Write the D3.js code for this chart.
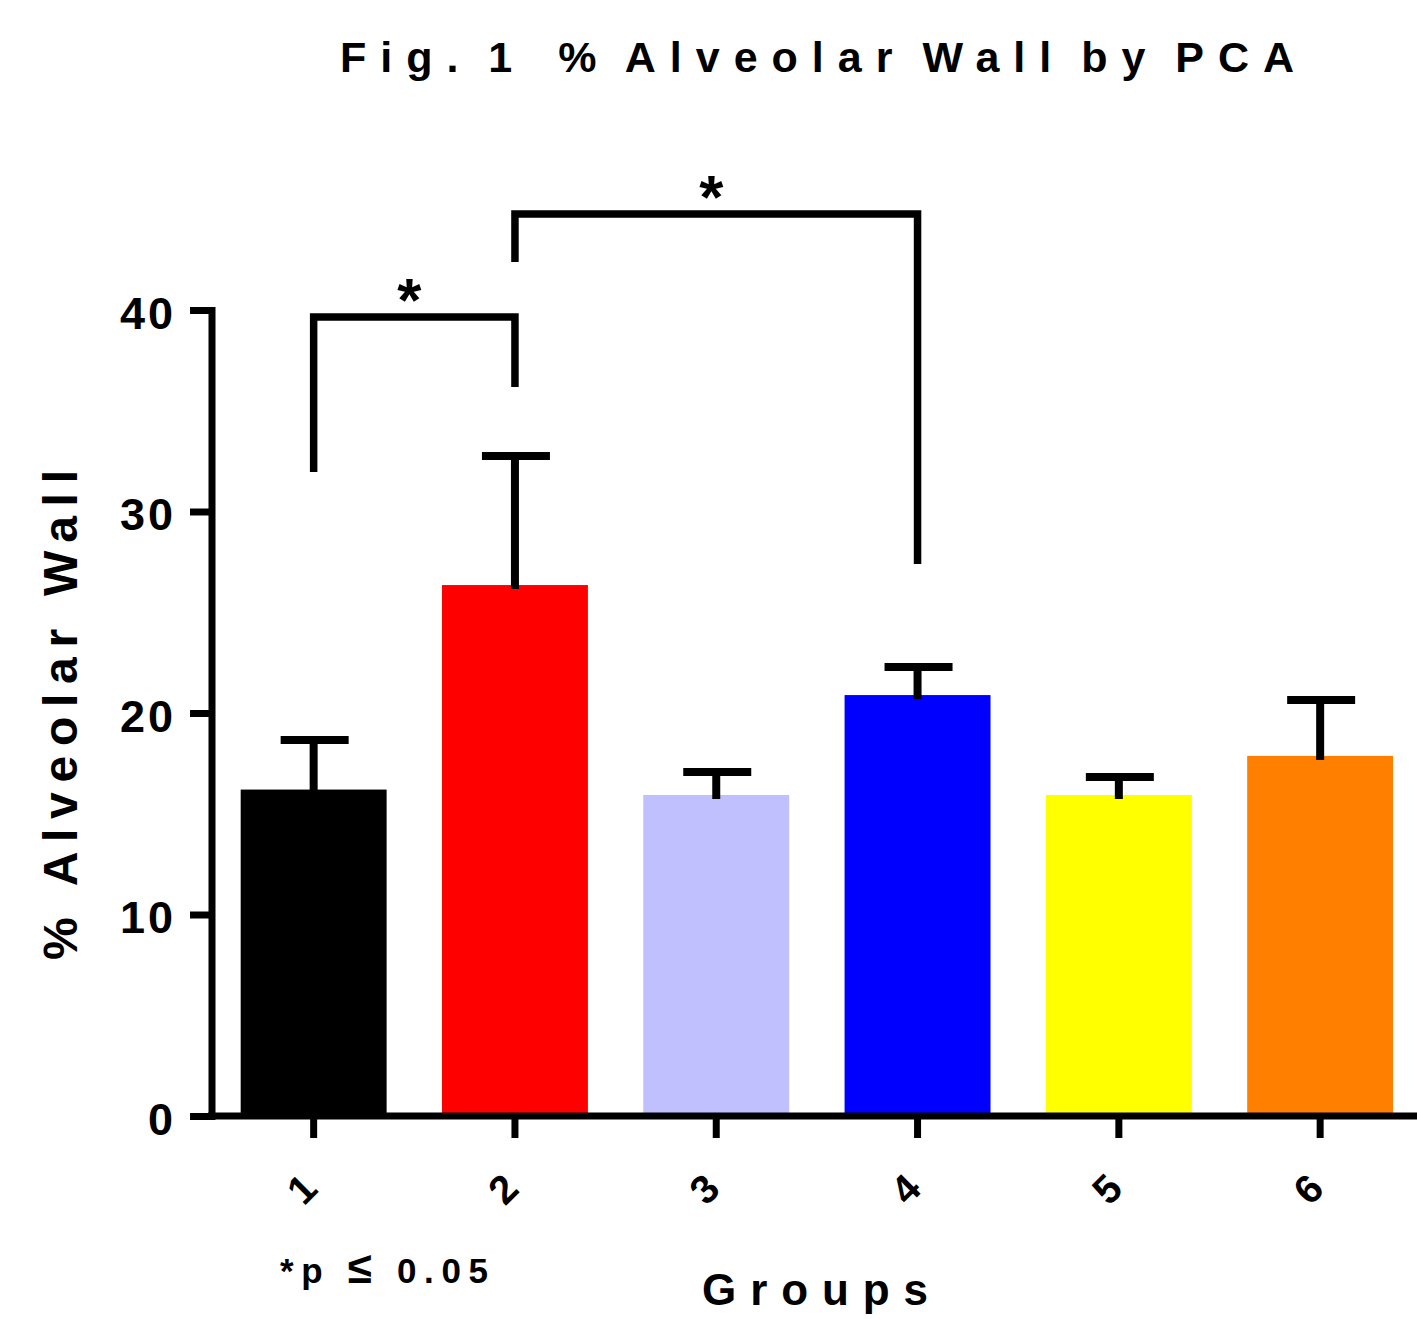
<!DOCTYPE html>
<html>
<head>
<meta charset="utf-8">
<title>% Alveolar Wall by PCA</title>
<script src="https://d3js.org/d3.v7.min.js"></script>
<style>
    body { margin: 0; background: #fff; }
    text { font-family: "Liberation Sans", Arial, sans-serif; font-weight: bold; fill: #000; }
</style>
</head>
<body>
<div id="chart"></div>
<script>
    // data
    const groups = ["1", "2", "3", "4", "5", "6"];
    const means = [16.2, 26.35, 15.93, 20.89, 15.93, 17.87];
    const sems = [2.46, 6.4, 1.14, 1.39, 0.89, 2.78];
    const colors = ["#000000", "#FF0000", "#C0C0FF", "#0000FF", "#FFFF00", "#FF8000"];
    const yTicks = [0, 10, 20, 30, 40];
    // significance brackets: group pair, bar height, left/right leg ends (y units)
    const brackets = [
        { from: "1", to: "2", top: 39.65, left: 31.96, right: 36.18, label: "*" },
        { from: "2", to: "4", top: 44.76, left: 42.38, right: 27.39, label: "*" }
    ];

    const W = 1417, H = 1319;
    const svg = d3.select("#chart").append("svg")
        .attr("width", W)
        .attr("height", H);

    const x = d3.scaleBand()
        .domain(groups)
        .range([213, 213 + 6 * 201.3])
        .paddingInner(0.275)
        .paddingOuter(0.1375);

    const y = d3.scaleLinear()
        .domain([0, 40])
        .range([1116, 310]);

    // bars
    svg.selectAll(".bar")
        .data(groups)
        .join("rect")
        .attr("class", "bar")
        .attr("x", d => x(d))
        .attr("width", x.bandwidth())
        .attr("y", (d, i) => y(means[i]))
        .attr("height", (d, i) => y(0) - y(means[i]))
        .attr("fill", (d, i) => colors[i]);

    // error bars (upper only)
    const capHalf = 33;
    const err = svg.append("g");
    groups.forEach((g, i) => {
        const cx = x(g) + x.bandwidth() / 2;
        err.append("line")
            .attr("x1", cx).attr("x2", cx)
            .attr("y1", y(means[i]) + 4)
            .attr("y2", y(means[i] + sems[i]))
            .attr("stroke", "#000").attr("stroke-width", 8);
        err.append("line")
            .attr("x1", cx - capHalf).attr("x2", cx + capHalf + 2)
            .attr("y1", y(means[i] + sems[i]))
            .attr("y2", y(means[i] + sems[i]))
            .attr("stroke", "#000").attr("stroke-width", 8);
    });

    // y axis
    const yAxis = svg.append("g")
        .attr("transform", "translate(212,0)")
        .call(d3.axisLeft(y).tickValues(yTicks).tickSize(22).tickSizeOuter(0).tickPadding(14));
    yAxis.select(".domain").attr("stroke-width", 7).attr("d", `M0,${y(40) - 3}V${y(0) + 4}`);
    yAxis.selectAll(".tick line").attr("stroke-width", 7);
    yAxis.selectAll(".tick text")
        .style("font-size", "45px")
        .style("letter-spacing", "3px")
        .attr("font-family", null)
        .attr("dy", "0.4em");

    // x axis
    const xAxis = svg.append("g")
        .attr("transform", "translate(0,1116)")
        .call(d3.axisBottom(x).tickSize(22).tickSizeOuter(0));
    xAxis.select(".domain").attr("stroke-width", 7).attr("d", `M208,0H${W}`);
    xAxis.selectAll(".tick line").attr("stroke-width", 7);
    xAxis.selectAll(".tick text")
        .style("font-size", "40px")
        .attr("font-family", null)
        .attr("text-anchor", "middle")
        .attr("dominant-baseline", "central")
        .attr("x", 0).attr("y", 0).attr("dy", null)
        .attr("transform", "translate(-12,73) rotate(-45)");

    // significance brackets
    brackets.forEach(b => {
        const x1 = x(b.from) + x.bandwidth() / 2;
        const x2 = x(b.to) + x.bandwidth() / 2;
        svg.append("path")
            .attr("d", `M${x1},${y(b.left)}V${y(b.top)}H${x2}V${y(b.right)}`)
            .attr("fill", "none")
            .attr("stroke", "#000")
            .attr("stroke-width", 7.5);
        svg.append("text")
            .attr("x", (x1 + x2) / 2 - 5)
            .attr("y", y(b.top) + 4)
            .attr("text-anchor", "middle")
            .style("font-size", "62px")
            .text(b.label);
    });

    // title
    svg.append("text")
        .attr("x", 340)
        .attr("y", 72)
        .style("font-size", "43px")
        .style("letter-spacing", "14px")
        .style("word-spacing", "-10px")
        .style("white-space", "pre")
        .text("Fig. 1  % Alveolar Wall by PCA");

    // y label
    svg.append("text")
        .attr("transform", "translate(77,960) rotate(-90)")
        .attr("textLength", 490)
        .attr("lengthAdjust", "spacing")
        .style("font-size", "48px")
        .text("% Alveolar Wall");

    // x label
    svg.append("text")
        .attr("x", 702)
        .attr("y", 1305)
        .attr("textLength", 226)
        .attr("lengthAdjust", "spacing")
        .style("font-size", "44px")
        .text("Groups");

    // footnote
    const note = svg.append("text")
        .attr("x", 280)
        .attr("y", 1283)
        .attr("textLength", 208)
        .attr("lengthAdjust", "spacing")
        .style("font-size", "35px");
    note.append("tspan").text("*p ");
    note.append("tspan").style("font-size", "44px").text("≤");
    note.append("tspan").text(" 0.05");
</script>
</body>
</html>
